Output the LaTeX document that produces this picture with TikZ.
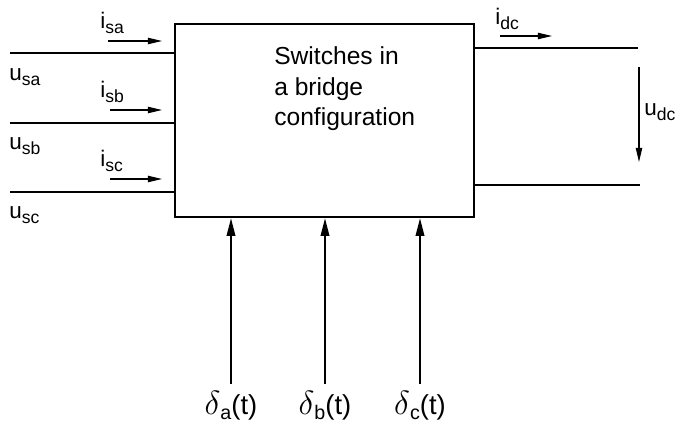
\documentclass[tikz,border=0pt]{standalone}
\usepackage{fontspec}
\setmainfont{Liberation Sans}
\usepackage{tikz}
\usetikzlibrary{
    arrows.meta,
    positioning
}
\newcommand{\subl}[1]{\raisebox{-0.4ex}{\fontsize{12.5}{12.5}\selectfont #1}}

\begin{document}
\begin{tikzpicture}[
    x=0.025cm, y=-0.025cm,
    wire/.style={line width=1.4pt},
    flow/.style={line width=0.8pt, -{Triangle[length=10pt, width=4.5pt]}},
    ctrl/.style={line width=1.4pt, -{Triangle[length=12.5pt, width=6pt]}},
    lbl/.style={font=\fontsize{16}{18}\selectfont, inner sep=0pt}
]
\useasboundingbox (0,0) rectangle (680,426);

\node[draw, line width=1.7pt, minimum width=299*0.025cm, minimum height=193*0.025cm,
      inner sep=0pt] (box) at (324.5,120.5) {};
\node[lbl, align=left, font=\fontsize{17.5}{22}\selectfont, anchor=north west]
      (title) at (274,46) {Switches in\\a bridge\\configuration};

% three phase inputs
\coordinate (sa) at (10,53);
\coordinate (sb) at (10,123);
\coordinate (sc) at (10,192);
\draw[wire] (sa) -- (box.west |- sa);
\draw[wire] (sb) -- (box.west |- sb);
\draw[wire] (sc) -- (box.west |- sc);

\coordinate (isa0) at (108,41);  \coordinate (isa1) at (162,41);
\coordinate (isb0) at (110,110); \coordinate (isb1) at (162,110);
\coordinate (isc0) at (110,179); \coordinate (isc1) at (162,179);
\draw[flow] (isa0) -- (isa1);
\draw[flow] (isb0) -- (isb1);
\draw[flow] (isc0) -- (isc1);

\node[lbl, anchor=south west] (isa) at (100,34) {i\subl{sa}};
\node[lbl, anchor=south west] (isb) at (100,103) {i\subl{sb}};
\node[lbl, anchor=south west] (isc) at (100,172) {i\subl{sc}};
\node[lbl, anchor=west] (usa) at (9,77) {u\subl{sa}};
\node[lbl, anchor=west] (usb) at (9,146) {u\subl{sb}};
\node[lbl, anchor=west] (usc) at (9,215) {u\subl{sc}};

% dc side
\coordinate (dcp) at (638,48);
\coordinate (dcn) at (640,185);
\draw[wire] (box.east |- dcp) -- (dcp);
\draw[wire] (box.east |- dcn) -- (dcn);
\coordinate (idc0) at (500,36); \coordinate (idc1) at (552,36);
\draw[flow] (idc0) -- (idc1);
\node[lbl, anchor=south west] (idc) at (495,30) {i\subl{dc}};
\coordinate (udc0) at (639,67); \coordinate (udc1) at (639,162);
\draw[flow] (udc0) -- (udc1);
\node[lbl, anchor=west] (udc) at (644,112) {u\subl{dc}};

% switching functions
\foreach \ph/\x in {a/231, b/325, c/420} {
    \coordinate (d\ph) at (\x,384);
    \draw[ctrl] (d\ph) -- (box.south -| d\ph);
    \node[lbl, font=\fontsize{19.5}{22}\selectfont] (lbl\ph) at ([yshift=-22*0.025cm]d\ph)
        {\scalebox{1.15}{$\delta$}\raisebox{-0.3ex}{\fontsize{14}{14}\selectfont\ph}(t)};
}

\end{tikzpicture}
\end{document}
